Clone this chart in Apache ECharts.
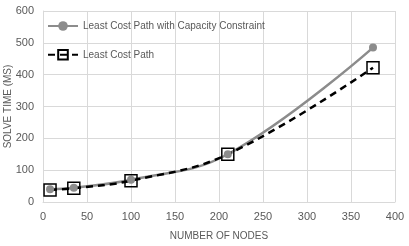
<!DOCTYPE html>
<html><head><meta charset="utf-8">
<script src="https://cdn.jsdelivr.net/npm/echarts@6/dist/echarts.min.js"></script>
<style>html,body{margin:0;padding:0;background:#fff}#c{width:409px;height:246px}</style>
</head><body><div id="c"></div>
<script>
var nodes = [8, 35, 100, 210, 375];
var withCapacity = [40, 45, 70, 150, 485];
var leastCost = [38, 43, 67, 150, 422];
var seriesNames = ['Least Cost Path with Capacity Constraint', 'Least Cost Path'];
var xTitle = 'NUMBER OF NODES';
var yTitle = 'SOLVE TIME (MS)';
var FONT = '"Liberation Sans Narrow", "Liberation Sans", sans-serif';

function pairs(xs, ys){ return xs.map(function(x,i){return [x, ys[i]];}); }

var chart = echarts.init(document.getElementById('c'));
chart.setOption({
  animation: false,
  textStyle: {fontFamily: FONT},
  grid: {left: 43, right: 14, top: 11, bottom: 44, containLabel: false, outerBoundsMode: 'none'},
  legend: {
    left: 42, top: 16, orient: 'vertical', itemWidth: 30, itemHeight: 12, itemGap: 18,
    textStyle: {color: '#595959', fontSize: 10, fontFamily: FONT},
    data: seriesNames
  },
  xAxis: {
    type: 'value', min: 0, max: 400, interval: 50,
    name: xTitle, nameLocation: 'middle', nameGap: 29, nameMoveOverlap: false,
    nameTextStyle: {color: '#595959', fontSize: 10, fontFamily: FONT},
    axisLine: {show: true, lineStyle: {color: '#d9d9d9'}},
    axisTick: {show: false},
    axisLabel: {color: '#595959', fontSize: 11, margin: 9, fontFamily: FONT},
    splitLine: {show: true, lineStyle: {color: '#d9d9d9'}}
  },
  yAxis: {
    type: 'value', min: 0, max: 600, interval: 100,
    name: yTitle, nameLocation: 'middle', nameGap: 30, nameMoveOverlap: false,
    nameTextStyle: {color: '#595959', fontSize: 10, fontFamily: FONT},
    axisLine: {show: true, lineStyle: {color: '#d9d9d9'}},
    axisTick: {show: false},
    axisLabel: {color: '#595959', fontSize: 11, margin: 9, fontFamily: FONT},
    splitLine: {show: true, lineStyle: {color: '#d9d9d9'}}
  },
  series: [
    {
      name: seriesNames[0], type: 'line', smooth: 0.4,
      data: pairs(nodes, withCapacity),
      symbol: 'circle', symbolSize: 8,
      lineStyle: {color: '#8c8c8c', width: 2.5},
      itemStyle: {color: '#8c8c8c'}
    },
    {
      name: seriesNames[1], type: 'line', smooth: 0.4,
      data: pairs(nodes, leastCost),
      symbol: 'rect', symbolSize: 12,
      lineStyle: {color: '#000', width: 2.5, type: [7, 5]},
      itemStyle: {color: 'rgba(0,0,0,0)', borderColor: '#000', borderWidth: 1.5}
    }
  ]
});
</script></body></html>
